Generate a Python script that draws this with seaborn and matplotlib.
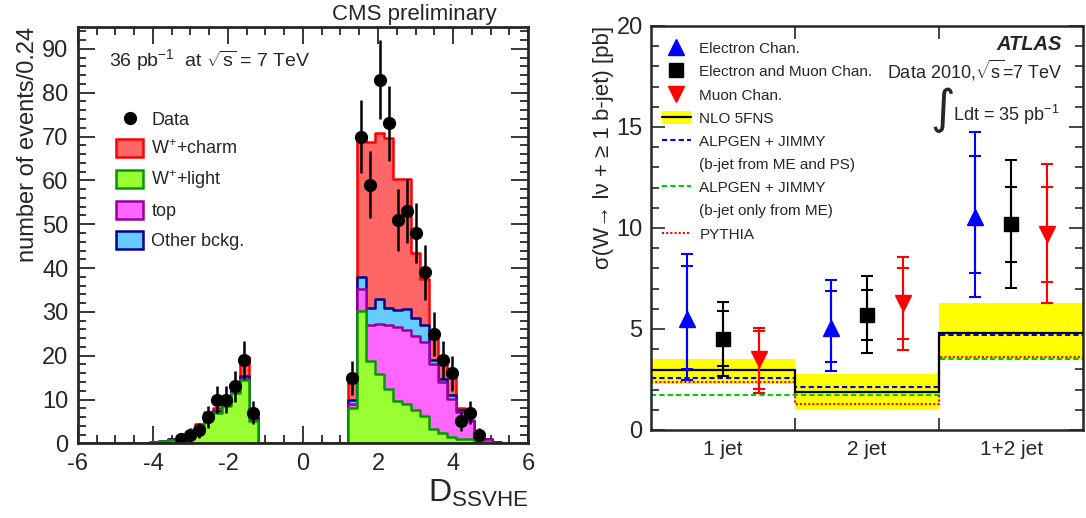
import numpy as np
import matplotlib
matplotlib.use("Agg")
import matplotlib.pyplot as plt
import seaborn as sns
from matplotlib.lines import Line2D
from matplotlib.patches import Patch

# ---- left panel: D_SSVHE, 50 bins of 0.24 between -6 and 6 ----
n_bins = 50
d_lo, d_hi = -6.0, 6.0

# negative side, first filled bin is D = -4.08
neg_first = 8
wlight_neg = [0.3, 0.5, 0.8, 1.2, 1.8, 3.4, 5.8, 7.0, 8.6, 11.4, 14.4, 5.1]
top_neg = [0, 0, 0, 0.1, 0.1, 0.1, 0.2, 0.2, 0.3, 0.3, 0.3, 0.2]
other_neg = [0, 0, 0.1, 0.1, 0.1, 0.2, 0.3, 0.3, 0.4, 0.4, 0.6, 0.4]
charm_neg = [0, 0.1, 0.1, 0.2, 0.3, 0.7, 0.9, 0.5, 0.2, 0.2, 4.3, 1.5]

# positive side, first filled bin is D = 1.20
pos_first = 30
wlight_pos = [8.1, 30.3, 18.9, 15.9, 12.5, 9.7, 9.1, 7.6, 6.2, 3.4, 2.3, 1.5, 1.1, 0.9, 0.6, 0.3, 0.1]
top_pos = [1.0, 4.9, 8.1, 11.4, 14.4, 16.8, 16.8, 17.0, 16.9, 14.6, 11.7, 8.7, 6.1, 4.1, 0.7, 0.6, 0.2]
other_pos = [0.7, 2.8, 4.0, 5.6, 4.1, 4.0, 4.8, 4.0, 3.8, 1.1, 0.8, 0.9, 0.4, 0.2, 0.1, 0, 0]
charm_pos = [5.4, 31.8, 37.7, 37.9, 38.7, 29.7, 29.5, 14.8, 10.6, 5.9, 4.5, 5.2, 0.4, 0.2, 0.1, 0, 0]

data_neg_first = 11
data_neg = [1, 2, 3, 6, 10, 10, 13, 19, 7]
data_pos_first = 30
data_pos = [15, 70, 59, 83, 73, 51, 53, 48, 39, 25, 19, 16, 5, 7, 2]

# ---- right panel: W + b-jet cross sections ----
jet_bins = ["1 jet", "2 jet", "1+2 jet"]
el_val = [5.5, 5.05, 10.55]
el_stat = [(3.0, 8.1), (3.35, 6.9), (7.78, 13.57)]
el_tot = [(2.45, 8.7), (2.9, 7.4), (6.6, 14.76)]
comb_val = [4.5, 5.7, 10.18]
comb_stat = [(3.15, 5.9), (4.45, 6.95), (8.33, 12.03)]
comb_tot = [(2.65, 6.35), (3.8, 7.6), (7.04, 13.35)]
mu_val = [3.5, 6.3, 9.72]
mu_stat = [(2.05, 4.9), (4.5, 8.0), (7.33, 12.03)]
mu_tot = [(1.85, 5.05), (3.95, 8.55), (6.29, 13.14)]

nlo_lo = [2.28, 0.99, 3.44]
nlo_hi = [3.49, 2.78, 6.29]
nlo_central = [2.95, 1.9, 4.82]
alpgen_me_ps = [2.57, 2.15, 4.69]
alpgen_me = [1.75, 1.75, 3.49]
pythia = [2.37, 1.26, 3.61]


def full_bins(neg, pos):
    arr = np.zeros(n_bins)
    arr[neg_first:neg_first + len(neg)] = neg
    arr[pos_first:pos_first + len(pos)] = pos
    return arr


sns.set_style("ticks")
plt.rcParams["font.family"] = ["Liberation Sans", "DejaVu Sans"]
plt.rcParams["mathtext.fontset"] = "custom"
plt.rcParams["mathtext.rm"] = "Liberation Sans"
plt.rcParams["mathtext.it"] = "Liberation Sans:italic"
plt.rcParams["axes.unicode_minus"] = False

fig = plt.figure(figsize=(10.86, 5.18), dpi=100)
ax = fig.add_axes([0.0718, 0.144, 0.4144, 0.804])
ax2 = fig.add_axes([0.5995, 0.170, 0.398, 0.780])

# ---- left: stacked histogram ----
edges = np.linspace(d_lo, d_hi, n_bins + 1)
centers = 0.5 * (edges[:-1] + edges[1:])
wlight = full_bins(wlight_neg, wlight_pos)
top = full_bins(top_neg, top_pos)
other = full_bins(other_neg, other_pos)
charm = full_bins(charm_neg, charm_pos)

layers = [
    (wlight + top + other + charm, "#ff6666", "#ff0000"),
    (wlight + top + other, "#66ccff", "#000099"),
    (wlight + top, "#ff66ff", "#990099"),
    (wlight, "#99ff33", "#009900"),
]
for heights, fc, ec in layers:
    sns.histplot(x=centers, weights=heights, bins=list(edges), element="step",
                 fill=True, facecolor=fc, edgecolor=ec, linewidth=1.8,
                 alpha=1, ax=ax)

data = np.zeros(n_bins)
data[data_neg_first:data_neg_first + len(data_neg)] = data_neg
data[data_pos_first:data_pos_first + len(data_pos)] = data_pos
has = data > 0
ax.errorbar(centers[has], data[has], yerr=np.sqrt(data[has]), fmt="o",
            color="black", ms=8.5, elinewidth=1.8, capsize=0, zorder=5)

ax.set_xlim(d_lo, d_hi)
ax.set_ylim(0, 95)
ax.set_xticks(np.arange(-6, 7, 2))
ax.set_xticks(np.arange(-6, 6.1, 0.5), minor=True)
ax.set_yticks(np.arange(0, 91, 10))
ax.set_yticks(np.arange(0, 95, 2), minor=True)
ax.tick_params(which="both", direction="in", top=True, right=True,
               labelsize=17, width=1.3)
ax.tick_params(which="major", length=12, pad=7)
ax.tick_params(which="minor", length=6)
for s in ax.spines.values():
    s.set_linewidth(2)
    s.set_zorder(6)
ax.set_ylabel("number of events/0.24", fontsize=17, loc="top", labelpad=2)
ax.set_xlabel(r"D$_{\rm SSVHE}$", fontsize=23, loc="right", labelpad=2)
ax.text(0.93, 1.005, "CMS preliminary", transform=ax.transAxes,
        ha="right", va="bottom", fontsize=16)
ax.text(0.07, 0.92, r"36 pb$^{-1}$  at $\sqrt{\rm s}$ = 7 TeV",
        transform=ax.transAxes, ha="left", va="center", fontsize=14)

left_handles = [
    Line2D([], [], marker="o", color="black", linestyle="none", ms=8.5),
    Patch(facecolor="#ff6666", edgecolor="#ff0000", linewidth=1.8),
    Patch(facecolor="#99ff33", edgecolor="#009900", linewidth=1.8),
    Patch(facecolor="#ff66ff", edgecolor="#990099", linewidth=1.8),
    Patch(facecolor="#66ccff", edgecolor="#000099", linewidth=1.8),
]
left_labels = ["Data", "W$^{+}$+charm", "W$^{+}$+light", "top", "Other bckg."]
ax.legend(left_handles, left_labels, loc="upper left",
          bbox_to_anchor=(0.085, 0.80), frameon=False, fontsize=13,
          handlelength=1.5, handleheight=1.15, labelspacing=0.56,
          handletextpad=0.45, borderpad=0, borderaxespad=0)

# ---- right: cross sections ----
xb = np.arange(len(jet_bins))
ax2.bar(xb + 0.5, np.array(nlo_hi) - np.array(nlo_lo), bottom=nlo_lo,
        width=1.0, color="#ffff00", linewidth=0, zorder=1)
bin_edges = np.arange(len(jet_bins) + 1)
ax2.stairs(alpgen_me, bin_edges, baseline=None, color="#00cc00",
           linestyle=(0, (2.5, 1.5)), linewidth=1.5, zorder=2)
ax2.stairs(pythia, bin_edges, baseline=None, color="#ff0000",
           linestyle=(0, (1, 1)), linewidth=1.5, zorder=2)
ax2.stairs(alpgen_me_ps, bin_edges, baseline=None, color="#0000ff",
           linestyle=(0, (2.5, 1.5)), linewidth=1.5, zorder=2)
ax2.stairs(nlo_central, bin_edges, baseline=None, color="black",
           linewidth=1.6, zorder=3)

series = [
    (el_val, el_stat, el_tot, 0.25, "^", "#0000ff", 12),
    (comb_val, comb_stat, comb_tot, 0.5, "s", "black", 10),
    (mu_val, mu_stat, mu_tot, 0.75, "v", "#ff0000", 12),
]
for val, stat, tot, off, mk, col, ms in series:
    val = np.array(val)
    stat = np.array(stat)
    tot = np.array(tot)
    xs = xb + off
    ax2.errorbar(xs, val, yerr=[val - tot[:, 0], tot[:, 1] - val], fmt="none",
                 ecolor=col, elinewidth=1.5, capsize=4, capthick=1.5, zorder=4)
    ax2.errorbar(xs, val, yerr=[val - stat[:, 0], stat[:, 1] - val], fmt="none",
                 ecolor=col, elinewidth=1.5, capsize=4, capthick=1.5, zorder=4)
    ax2.plot(xs, val, marker=mk, color=col, ms=ms, linestyle="none", zorder=5)

ax2.set_xlim(0, 3)
ax2.set_ylim(0, 20)
ax2.set_xticks([1, 2])
ax2.set_xticklabels([])
ax2.set_xticks(xb + 0.5, jet_bins, minor=True)
ax2.set_yticks(np.arange(0, 21, 5))
ax2.set_yticks(np.arange(0, 21, 1), minor=True)
ax2.tick_params(axis="x", which="major", direction="in", top=True,
                length=9, width=1.2)
ax2.tick_params(axis="x", which="minor", length=0, pad=7, labelsize=15)
ax2.tick_params(axis="y", which="both", direction="in", right=True,
                width=1.2, labelsize=17, pad=6)
ax2.tick_params(axis="y", which="major", length=10)
ax2.tick_params(axis="y", which="minor", length=6)
for s in ax2.spines.values():
    s.set_linewidth(1.8)
ax2.set_ylabel("σ(W→ lν + ≥ 1 b-jet) [pb]", fontsize=16, loc="top",
               labelpad=2)

ax2.text(0.951, 0.953, "ATLAS", transform=ax2.transAxes, ha="right",
         va="center", fontsize=14.5, fontweight="bold", fontstyle="italic")
ax2.text(0.951, 0.889, r"Data 2010,$\sqrt{\rm s}$=7 TeV", transform=ax2.transAxes,
         ha="right", va="center", fontsize=13)
ax2.text(0.645, 0.79, "∫", transform=ax2.transAxes, ha="left",
         va="center", fontsize=34, family=["DejaVu Sans"])
ax2.text(0.945, 0.78, r"Ldt = 35 pb$^{-1}$", transform=ax2.transAxes,
         ha="right", va="center", fontsize=13)

blank = Line2D([], [], linestyle="none")
right_handles = [
    Line2D([], [], marker="^", color="#0000ff", linestyle="none", ms=12),
    Line2D([], [], marker="s", color="black", linestyle="none", ms=10),
    Line2D([], [], marker="v", color="#ff0000", linestyle="none", ms=12),
    (Patch(facecolor="#ffff00", linewidth=0),
     Line2D([], [], color="black", linewidth=1.6)),
    Line2D([], [], color="#0000ff", linestyle=(0, (2.5, 1.5)), linewidth=1.5),
    blank,
    Line2D([], [], color="#00cc00", linestyle=(0, (2.5, 1.5)), linewidth=1.5),
    blank,
    Line2D([], [], color="#ff0000", linestyle=(0, (1, 1)), linewidth=1.5),
]
right_labels = ["Electron Chan.", "Electron and Muon Chan.", "Muon Chan.",
                "NLO 5FNS", "ALPGEN + JIMMY", "(b-jet from ME and PS)",
                "ALPGEN + JIMMY", "(b-jet only from ME)", "PYTHIA"]
ax2.legend(right_handles, right_labels, loc="upper left",
           bbox_to_anchor=(0.025, 0.962), frameon=False, fontsize=11,
           handlelength=1.9, handleheight=1.0, labelspacing=0.53,
           handletextpad=0.55, borderpad=0, borderaxespad=0)

fig.savefig("out.png", dpi=100)
